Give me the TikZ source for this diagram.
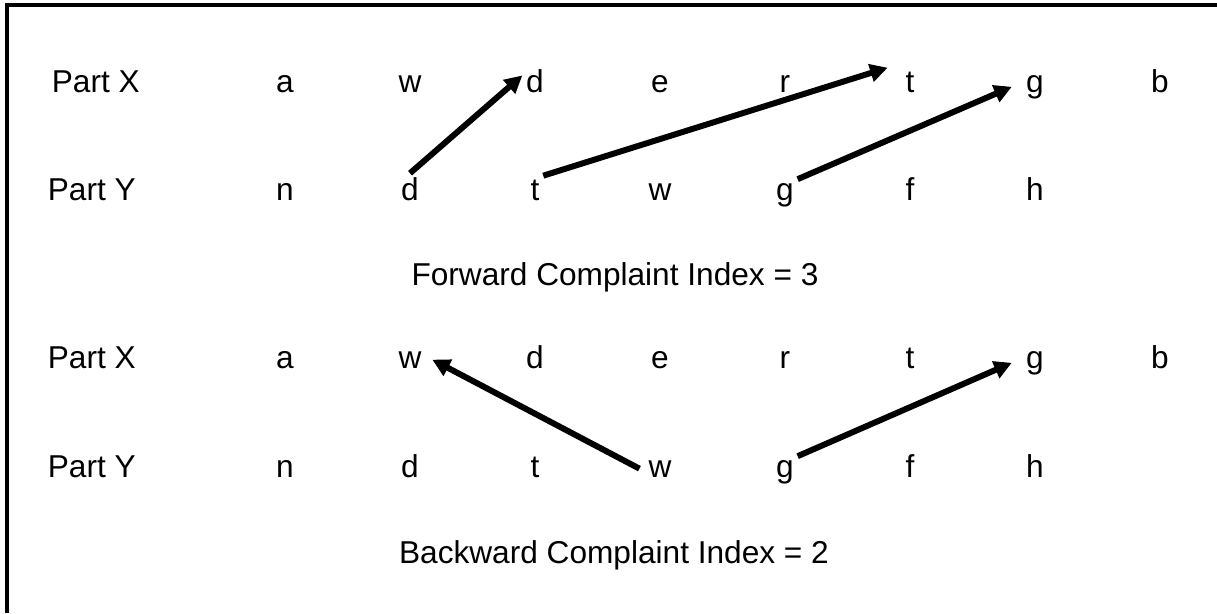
\documentclass[tikz,border=0pt]{standalone}
\usepackage{fontspec}
\setmainfont{Liberation Sans}
\usetikzlibrary{arrows.meta}
\begin{document}
\begin{tikzpicture}[x=0.02cm, y=-0.02cm,
		lbl/.style={anchor=base, inner sep=2pt, font=\fontsize{18}{22}\selectfont},
		part/.style={lbl, anchor=base west},
		link/.style={line width=3.4pt, -{Triangle[length=10pt,width=10pt]}}]
		\useasboundingbox (0,0) rectangle (1217,613);
		\draw [line width=1.8pt] (7,613)--(7,5)--(1217,5);
		% forward rows
		\node[part] (px1) at (48,92) {Part X};
		\node[lbl] (xa1) at (285,92) {a};
		\node[lbl] (xw1) at (410,92) {w};
		\node[lbl] (xd1) at (535,92) {d};
		\node[lbl] (xe1) at (660,92) {e};
		\node[lbl] (xr1) at (785,92) {r};
		\node[lbl] (xt1) at (910,92) {t};
		\node[lbl] (xg1) at (1035,92) {g};
		\node[lbl] (xb1) at (1160,92) {b};
		\node[part] (py1) at (44,200) {Part Y};
		\node[lbl] (yn1) at (285,200) {n};
		\node[lbl] (yd1) at (410,200) {d};
		\node[lbl] (yt1) at (535,200) {t};
		\node[lbl] (yw1) at (660,200) {w};
		\node[lbl] (yg1) at (785,200) {g};
		\node[lbl] (yf1) at (910,200) {f};
		\node[lbl] (yh1) at (1035,200) {h};
		\node[lbl] (fwd) at (615,285) {Forward Complaint Index = 3};
		% backward rows
		\node[part] (px2) at (44,368) {Part X};
		\node[lbl] (xa2) at (285,368) {a};
		\node[lbl] (xw2) at (410,368) {w};
		\node[lbl] (xd2) at (535,368) {d};
		\node[lbl] (xe2) at (660,368) {e};
		\node[lbl] (xr2) at (785,368) {r};
		\node[lbl] (xt2) at (910,368) {t};
		\node[lbl] (xg2) at (1035,368) {g};
		\node[lbl] (xb2) at (1160,368) {b};
		\node[part] (py2) at (44,477) {Part Y};
		\node[lbl] (yn2) at (285,477) {n};
		\node[lbl] (yd2) at (410,477) {d};
		\node[lbl] (yt2) at (535,477) {t};
		\node[lbl] (yw2) at (660,477) {w};
		\node[lbl] (yg2) at (785,477) {g};
		\node[lbl] (yf2) at (910,477) {f};
		\node[lbl] (yh2) at (1035,477) {h};
		\node[lbl] (bwd) at (614,563) {Backward Complaint Index = 2};
		% links
		\draw [link] (yd1.north)--([yshift=3pt]xd1.west);
		\draw [link] (yt1.north east)--([xshift=-8pt]xt1.north west);
		\draw [link] (yg1.north east)--([xshift=-6pt]xg1.west);
		\draw [link] ([xshift=-3pt]yw2.west)--([xshift=4pt]xw2.east);
		\draw [link] (yg2.north east)--([xshift=-6pt]xg2.west);
\end{tikzpicture}
\end{document}
